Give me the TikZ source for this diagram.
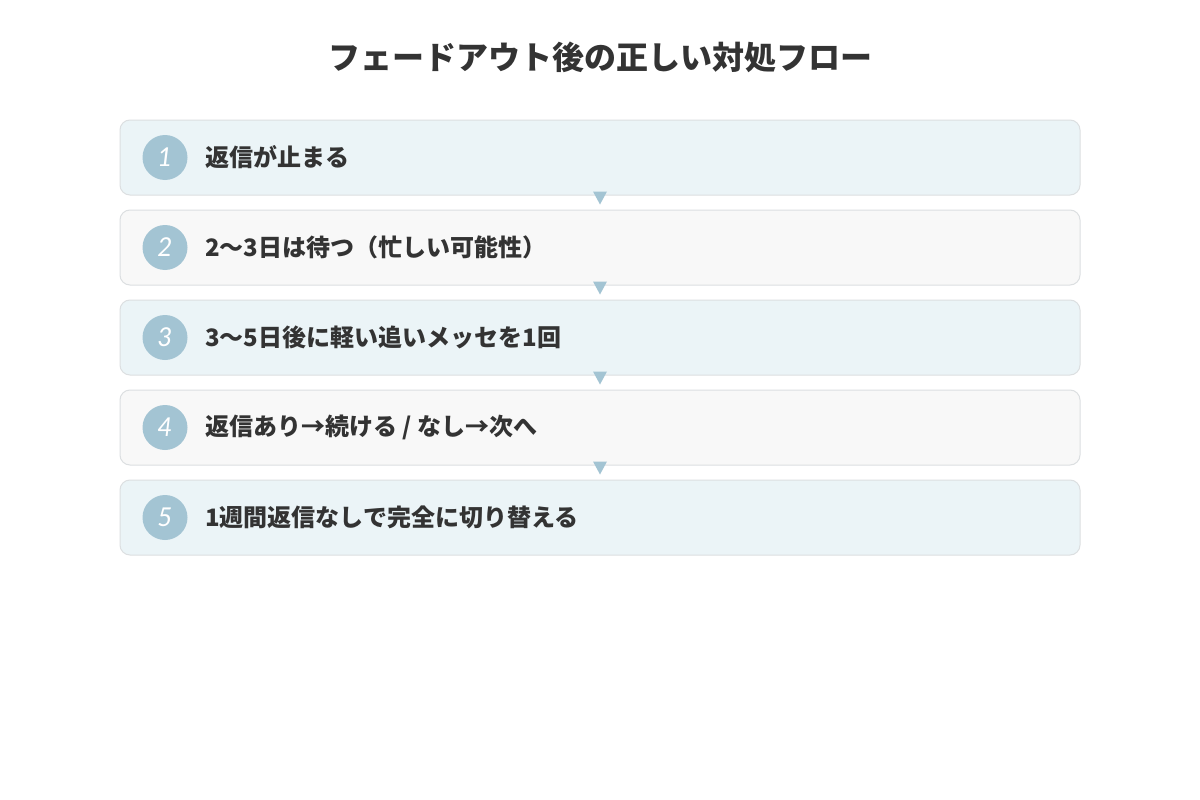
\documentclass[tikz,border=0pt]{standalone}
\usepackage{fontspec}
\setmainfont{Noto Sans CJK JP}
\newfontfamily\numfont{Lato Italic}
\usepackage{xcolor}
\usetikzlibrary{positioning,calc}

\definecolor{inkgray}{HTML}{333333}
\definecolor{circleblue}{HTML}{A3C4D3}
\definecolor{boxblue}{HTML}{EBF4F7}
\definecolor{boxgray}{HTML}{F8F8F8}
\definecolor{linegray}{HTML}{DCDFE1}

\tikzset{
  stepbox/.style={draw=linegray, line width=1pt, rounded corners=10pt,
    minimum width=960pt, minimum height=75pt, inner sep=0pt},
  stepnum/.style={circle, fill=circleblue, minimum size=45pt, inner sep=0pt,
    text=white, font=\numfont\fontsize{26}{26}\selectfont},
  steptext/.style={anchor=west, inner sep=0pt, text=inkgray,
    font=\bfseries\fontsize{24}{26}\selectfont},
  downtip/.style={fill=circleblue}
}

\begin{document}
\begin{tikzpicture}[x=1pt, y=-1pt]
    \useasboundingbox[fill=white] (0,0) rectangle (1200,800);

    % Title
    \node[text=inkgray, font=\bfseries\fontsize{32}{34}\selectfont] (title) at (600,57) {フェードアウト後の正しい対処フロー};

    % Steps
    \foreach \i/\fillc/\label in {1/boxblue/{返信が止まる},
        2/boxgray/{2〜3日は待つ（忙しい可能性）},
        3/boxblue/{3〜5日後に軽い追いメッセを1回},
        4/boxgray/{返信あり→続ける / なし→次へ},
        5/boxblue/{1週間返信なしで完全に切り替える}} {
      \node[stepbox, fill=\fillc] (step\i) at (600,{157.5+90*(\i-1)}) {};
      \node[stepnum] (num\i) at (165,{157.5+90*(\i-1)}) {\i};
      \node[steptext] (text\i) at (205,{157.5+90*(\i-1)}) {\label};
    }

    % Arrow tips between steps
    \foreach \i in {1,...,4} {
      \coordinate (tip\i) at ($(step\i.south)+(0,9)$);
      \fill[downtip] ($(step\i.south)+(-7,-4)$) -- ($(step\i.south)+(7,-4)$) -- (tip\i) -- cycle;
    }

\end{tikzpicture}
\end{document}
